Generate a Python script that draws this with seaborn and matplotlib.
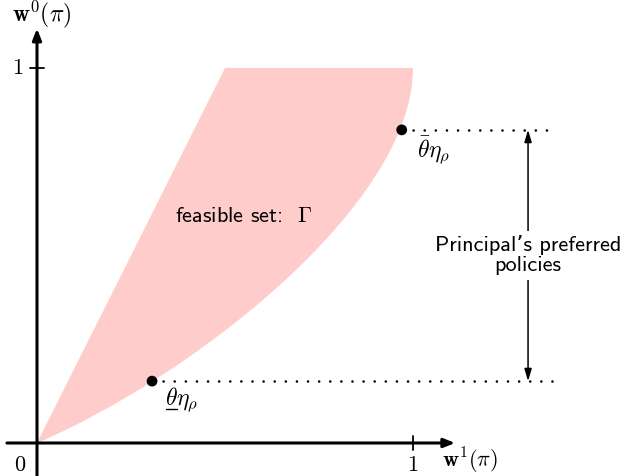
import numpy as np
import pandas as pd
import matplotlib
matplotlib.use("Agg")
import matplotlib.pyplot as plt
from matplotlib.path import Path
from matplotlib.patches import PathPatch
import seaborn as sns

# Feasible set boundary: straight left edge up to the top, flat top edge,
# then a cubic curve back down to the origin (its control points below)
left_top_x = 0.5
right_top_x = 1.0
curve_ctrl_x = [1.0, 1.0, 0.4, 0.0]
curve_ctrl_y = [1.0, 0.63, 0.17, 0.0]

# Highlighted policies on the boundary
point_names = ["low", "high"]
point_x = [0.306, 0.970]
point_y = [0.165, 0.835]
point_labels = [r"$\theta\eta_\rho$", r"$\bar{\theta}\eta_\rho$"]

dotted_end_x = 1.372
arrow_x = 1.306

sns.set_theme(style="white")
plt.rcParams["mathtext.fontset"] = "cm"
plt.rcParams["font.family"] = ["cmss10", "DejaVu Sans"]
plt.rcParams["text.color"] = "black"

fig = plt.figure(figsize=(6.25, 4.76), dpi=100)
ax = fig.add_axes([0, 0, 1, 1])
ax.set_xlim(-37 / 376, (625 - 37) / 376)
ax.set_ylim(-(476 - 443) / 375, 443 / 375)
ax.set_axis_off()

# feasible set
verts = [(0.0, 0.0), (left_top_x, 1.0), (right_top_x, 1.0)]
verts += list(zip(curve_ctrl_x[1:], curve_ctrl_y[1:]))
codes = [Path.MOVETO, Path.LINETO, Path.LINETO, Path.CURVE4, Path.CURVE4, Path.CURVE4]
ax.add_patch(PathPatch(Path(verts, codes), facecolor="#ffcccc", lw=0, zorder=1))

# axes with arrowheads
ax.annotate("", xy=(1.112, 0), xytext=(-0.08, 0),
            arrowprops=dict(arrowstyle="-|>,head_length=0.55,head_width=0.22",
                            color="black", lw=2.2, shrinkA=0, shrinkB=0), zorder=3)
ax.annotate("", xy=(0, 1.105), xytext=(0, -0.09),
            arrowprops=dict(arrowstyle="-|>,head_length=0.55,head_width=0.22",
                            color="black", lw=2.2, shrinkA=0, shrinkB=0), zorder=3)
ax.plot([1, 1], [-0.019, 0.019], color="black", lw=1.3, zorder=3)
ax.plot([-0.019, 0.019], [1, 1], color="black", lw=1.3, zorder=3)

ax.text(-0.045, -0.06, "$0$", fontsize=16, ha="center", va="center")
ax.text(1.0, -0.06, "$1$", fontsize=16, ha="center", va="center")
ax.text(-0.05, 1.0, "$1$", fontsize=16, ha="center", va="center")
ax.text(1.078, -0.047, r"$\mathbf{w}^1(\pi)$", fontsize=16, ha="left", va="center")
ax.text(0.013, 1.143, r"$\mathbf{w}^0(\pi)$", fontsize=17, ha="center", va="center")

# dotted guide lines from the points
for px, py in zip(point_x, point_y):
    ax.plot([px, dotted_end_x], [py, py], color="black", lw=1.9,
            dashes=(0.01, 4.2), dash_capstyle="round", zorder=2)

pts = pd.DataFrame({"name": point_names, "x": point_x, "y": point_y})
sns.scatterplot(data=pts, x="x", y="y", ax=ax, color="black", s=60,
                edgecolor="none", zorder=4, legend=False)

# point labels
ax.text(0.340, 0.117, point_labels[0], fontsize=17, ha="left", va="center")
ax.plot([0.343, 0.373], [0.092, 0.092], color="black", lw=1.0)
ax.text(1.010, 0.782, point_labels[1], fontsize=17, ha="left", va="center")

ax.text(0.551, 0.605, r"feasible set:  $\Gamma$", fontsize=16, ha="center", va="center")

# double-headed arrow spanning the preferred policies
ax.annotate("", xy=(arrow_x, point_y[1]), xytext=(arrow_x, point_y[0]),
            arrowprops=dict(arrowstyle="<|-|>,head_length=0.6,head_width=0.18",
                            color="black", lw=1.1, shrinkA=0, shrinkB=0), zorder=3)
ax.text(arrow_x, 0.501, "Principal\u2019s preferred\npolicies", fontsize=16,
        ha="center", va="center", linespacing=1.1,
        bbox=dict(facecolor="white", edgecolor="none", pad=3), zorder=5)

fig.savefig("out.png", dpi=100)
